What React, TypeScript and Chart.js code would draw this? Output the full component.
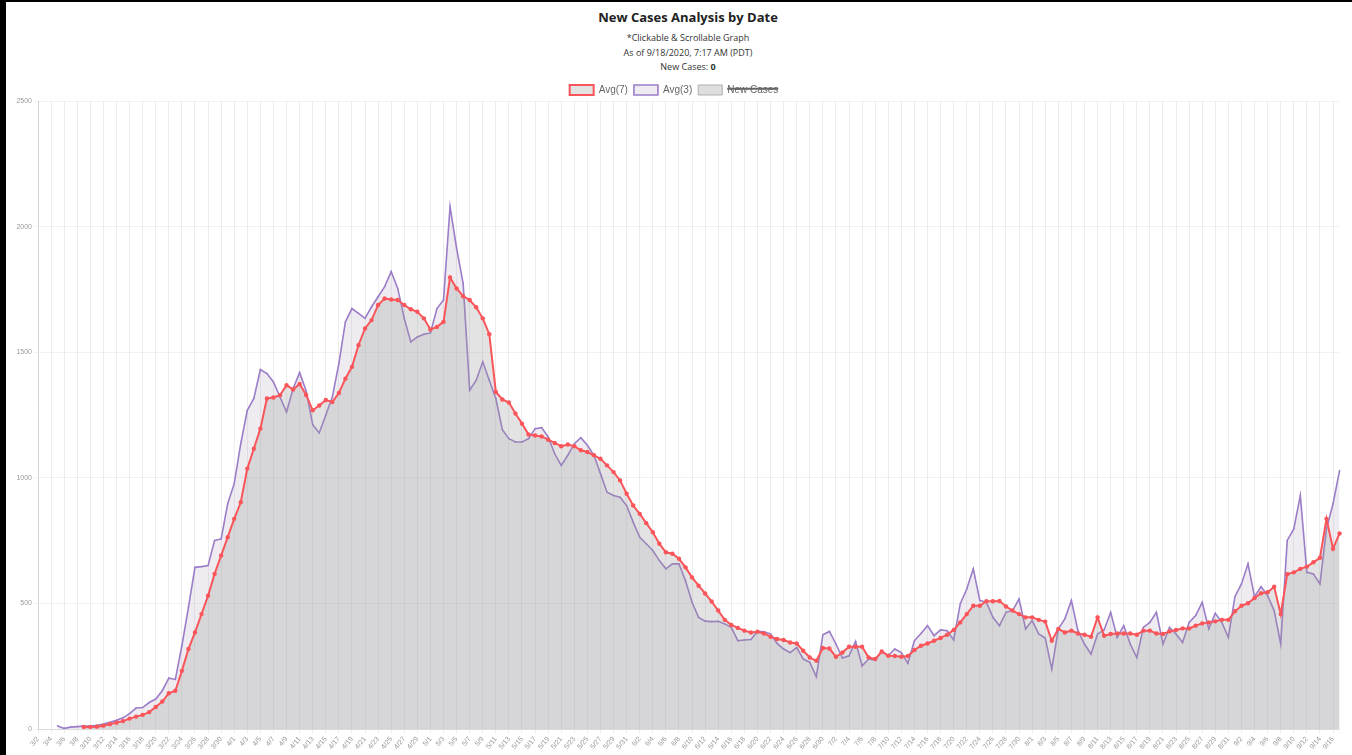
import React, { useEffect, useRef } from "react";
import { Chart, registerables } from "chart.js";
Chart.register(...registerables);

const TITLE = "New Cases Analysis by Date";
const SUBTITLE_1 = "*Clickable & Scrollable Graph";
const SUBTITLE_2 = "As of 9/18/2020, 7:17 AM (PDT)";
const NEW_CASES_LABEL = "New Cases: ";
const NEW_CASES_VALUE = "0";

const dateLabels = [
  "3/2","3/3","3/4","3/5","3/6","3/7","3/8","3/9","3/10","3/11","3/12","3/13","3/14","3/15","3/16","3/17","3/18","3/19","3/20","3/21","3/22","3/23","3/24","3/25","3/26","3/27","3/28","3/29","3/30","3/31",
  "4/1","4/2","4/3","4/4","4/5","4/6","4/7","4/8","4/9","4/10","4/11","4/12","4/13","4/14","4/15","4/16","4/17","4/18","4/19","4/20","4/21","4/22","4/23","4/24","4/25","4/26","4/27","4/28","4/29","4/30",
  "5/1","5/2","5/3","5/4","5/5","5/6","5/7","5/8","5/9","5/10","5/11","5/12","5/13","5/14","5/15","5/16","5/17","5/18","5/19","5/20","5/21","5/22","5/23","5/24","5/25","5/26","5/27","5/28","5/29","5/30","5/31",
  "6/1","6/2","6/3","6/4","6/5","6/6","6/7","6/8","6/9","6/10","6/11","6/12","6/13","6/14","6/15","6/16","6/17","6/18","6/19","6/20","6/21","6/22","6/23","6/24","6/25","6/26","6/27","6/28","6/29","6/30",
  "7/1","7/2","7/3","7/4","7/5","7/6","7/7","7/8","7/9","7/10","7/11","7/12","7/13","7/14","7/15","7/16","7/17","7/18","7/19","7/20","7/21","7/22","7/23","7/24","7/25","7/26","7/27","7/28","7/29","7/30","7/31",
  "8/1","8/2","8/3","8/4","8/5","8/6","8/7","8/8","8/9","8/10","8/11","8/12","8/13","8/14","8/15","8/16","8/17","8/18","8/19","8/20","8/21","8/22","8/23","8/24","8/25","8/26","8/27","8/28","8/29","8/30","8/31",
  "9/1","9/2","9/3","9/4","9/5","9/6","9/7","9/8","9/9","9/10","9/11","9/12","9/13","9/14","9/15","9/16","9/17",
];

const avg7: (number | null)[] = [
  null, null, null, null, null, null, null, 9, 9, 10,
  14, 20, 26, 32, 42, 50, 57, 68, 88, 110,
  143, 153, 232, 319, 385, 458, 531, 618, 691, 764,
  837, 903, 1037, 1116, 1196, 1316, 1320, 1329, 1369, 1352,
  1374, 1330, 1269, 1288, 1310, 1302, 1338, 1395, 1442, 1528,
  1595, 1628, 1688, 1714, 1710, 1708, 1688, 1671, 1661, 1635,
  1591, 1601, 1621, 1798, 1754, 1723, 1708, 1679, 1635, 1572,
  1342, 1312, 1300, 1256, 1216, 1173, 1169, 1165, 1152, 1139,
  1126, 1133, 1126, 1110, 1103, 1090, 1076, 1050, 1023, 990,
  937, 890, 857, 820, 784, 738, 704, 698, 678, 644,
  604, 571, 540, 508, 472, 435, 415, 403, 392, 385,
  388, 381, 368, 359, 355, 345, 341, 312, 285, 272,
  323, 321, 288, 305, 328, 328, 328, 285, 279, 309,
  292, 291, 288, 291, 315, 332, 341, 352, 363, 376,
  395, 425, 458, 491, 491, 509, 509, 510, 488, 472,
  458, 445, 445, 435, 428, 352, 399, 385, 392, 381,
  376, 368, 445, 372, 379, 381, 381, 381, 376, 392,
  392, 381, 379, 389, 395, 401, 401, 412, 421, 425,
  429, 435, 435, 469, 491, 501, 522, 541, 545, 567,
  458, 617, 624, 638, 647, 664, 682, 837, 718, 779,
];

const avg3: (number | null)[] = [
  null, null, null, 13, 3, 8, 10, 12, 12, 15,
  20, 27, 35, 45, 62, 84, 86, 106, 120, 153,
  203, 198, 332, 485, 644, 647, 651, 751, 757, 897,
  977, 1136, 1269, 1316, 1431, 1415, 1382, 1322, 1262, 1355,
  1419, 1346, 1212, 1179, 1250, 1322, 1455, 1621, 1674, 1655,
  1635, 1681, 1721, 1761, 1821, 1754, 1635, 1541, 1561, 1572,
  1577, 1674, 1708, 2080, 1914, 1774, 1349, 1389, 1462, 1389,
  1316, 1192, 1156, 1143, 1143, 1156, 1196, 1200, 1163, 1096,
  1050, 1090, 1136, 1160, 1130, 1090, 1017, 943, 930, 923,
  890, 824, 764, 738, 711, 671, 638, 658, 658, 591,
  505, 445, 430, 428, 429, 419, 405, 352, 355, 357,
  389, 388, 379, 341, 319, 305, 325, 279, 266, 209,
  376, 389, 339, 283, 292, 349, 252, 279, 275, 312,
  292, 319, 305, 262, 352, 381, 412, 372, 395, 392,
  355, 498, 558, 638, 512, 505, 445, 412, 465, 472,
  518, 399, 432, 379, 363, 239, 399, 439, 512, 392,
  339, 299, 379, 395, 465, 365, 412, 339, 285, 405,
  425, 465, 339, 405, 379, 345, 425, 452, 505, 399,
  461, 425, 365, 527, 578, 658, 527, 567, 531, 472,
  339, 751, 797, 930, 624, 618, 578, 797, 897, 1029,
];

// The "New Cases" series is hidden in the reference (struck-through legend item),
// so its values cannot be read from the picture.
const newCases: (number | null)[] = [];

const yTickValues = [0, 500, 1000, 1500, 2000, 2500];

const legendShrink = {
  id: "legendShrink",
  beforeInit(chart: any) {
    const legend = chart.legend;
    if (!legend) return;
    const originalFit = legend.fit;
    legend.fit = function (this: any) {
      originalFit.call(this);
      this.height -= 4;
    };
  },
};

export default function App() {
  const canvasRef = useRef<HTMLCanvasElement>(null);

  useEffect(() => {
    document.body.style.margin = "0";
    const canvas = canvasRef.current;
    if (!canvas) return;
    const chart = new Chart(canvas, {
      type: "line",
      data: {
        labels: dateLabels,
        datasets: [
          {
            label: "Avg(7)",
            data: avg7,
            borderColor: "rgb(250, 85, 90)",
            backgroundColor: "rgba(150, 150, 150, 0.27)",
            borderWidth: 2,
            pointRadius: 2.2,
            pointBorderWidth: 0,
            pointBackgroundColor: "rgb(250, 85, 90)",
            fill: "origin",
            tension: 0,
          },
          {
            label: "Avg(3)",
            data: avg3,
            borderColor: "rgb(155, 125, 200)",
            backgroundColor: "rgba(168, 162, 182, 0.2)",
            borderWidth: 1.6,
            pointRadius: 0.8,
            pointBorderWidth: 0,
            pointBackgroundColor: "rgb(155, 125, 200)",
            fill: "origin",
            tension: 0,
          },
          {
            label: "New Cases",
            data: newCases,
            borderColor: "rgb(175, 175, 175)",
            backgroundColor: "rgba(200, 200, 200, 0.6)",
            borderWidth: 1,
            pointRadius: 0,
            fill: "origin",
            hidden: true,
          },
        ],
      },
      options: {
        responsive: false,
        animation: false,
        layout: { padding: { left: 0, right: 6, top: 0, bottom: 0 } },
        plugins: {
          legend: {
            position: "top",
            labels: {
              boxWidth: 24,
              boxHeight: 10,
              padding: 6,
              color: "#666",
              font: { size: 10, family: "'Liberation Sans', Arial, sans-serif" },
            },
          },
          title: { display: false },
          tooltip: { enabled: false },
        },
        scales: {
          x: {
            grid: {
              color: (ctx: any) => (ctx.index % 2 === 0 ? "rgba(0,0,0,0.07)" : "rgba(0,0,0,0)"),
              tickLength: 4,
            },
            ticks: {
              autoSkip: false,
              minRotation: 50,
              maxRotation: 50,
              color: "#999",
              padding: 2,
              font: { size: 7, family: "'Liberation Sans', Arial, sans-serif" },
              callback: function (this: any, value: any, index: number) {
                return index % 2 === 0 ? this.getLabelForValue(value) : "";
              },
            },
          },
          y: {
            min: yTickValues[0],
            max: yTickValues[yTickValues.length - 1],
            afterFit: (scale: any) => {
              scale.width = 32;
            },
            afterBuildTicks: (scale: any) => {
              scale.ticks = yTickValues.map((v) => ({ value: v }));
            },
            grid: { color: "rgba(0,0,0,0.05)", tickLength: 4 },
            ticks: {
              color: "#999",
              padding: 2,
              font: { size: 7, family: "'Liberation Sans', Arial, sans-serif" },
              callback: (value: any) => String(value),
            },
          },
        },
      },
      plugins: [legendShrink],
    });
    return () => chart.destroy();
  }, []);

  const center = 688;
  const lineStyle = (top: number, size: number, weight: number, color: string): React.CSSProperties => ({
    position: "absolute",
    left: center - 300,
    width: 600,
    top,
    textAlign: "center",
    fontFamily: "'Open Sans', 'Noto Sans', sans-serif",
    fontSize: size,
    fontWeight: weight,
    color,
    lineHeight: "14px",
    whiteSpace: "nowrap",
  });

  return (
    <div style={{ position: "relative", width: 1352, height: 755, overflow: "hidden", background: "#fff" }}>
      <div style={{ position: "absolute", left: 0, top: 0, width: 1352, height: 2, background: "#000" }} />
      <div style={{ position: "absolute", left: 0, top: 0, width: 6, height: 755, background: "#000" }} />
      <div style={lineStyle(10, 13, 700, "#222")}>{TITLE}</div>
      <div style={lineStyle(31, 9, 400, "#333")}>{SUBTITLE_1}</div>
      <div style={lineStyle(46, 9, 400, "#333")}>{SUBTITLE_2}</div>
      <div style={lineStyle(60, 9, 400, "#333")}>
        {NEW_CASES_LABEL}
        <b>{NEW_CASES_VALUE}</b>
      </div>
      <canvas
        ref={canvasRef}
        width={1342}
        height={674}
        style={{ position: "absolute", left: 6, top: 79, width: 1342, height: 674 }}
      />
    </div>
  );
}
